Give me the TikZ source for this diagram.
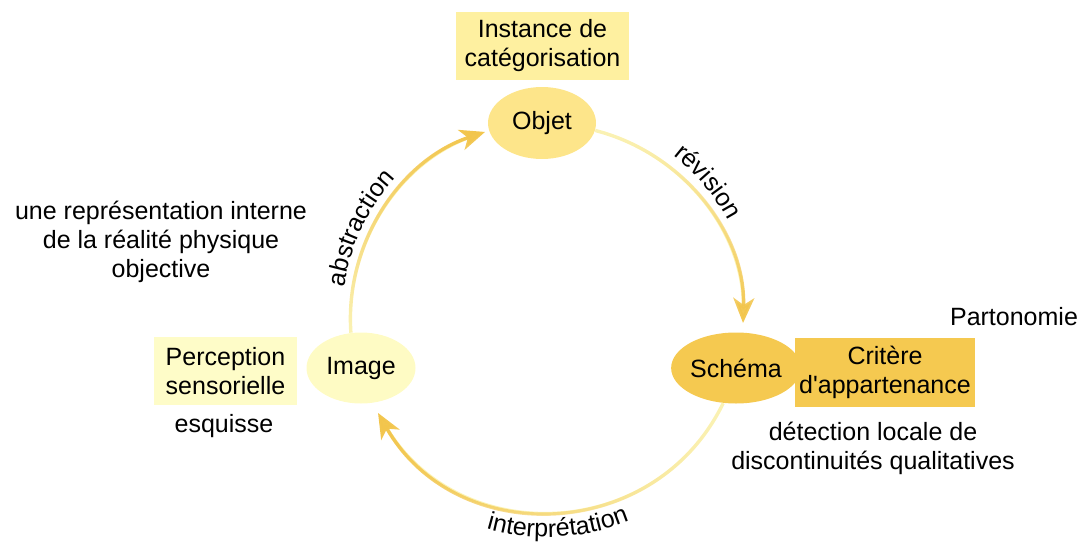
\documentclass[tikz,border=0pt]{standalone}
\usepackage{fontspec}
\setmainfont{Liberation Sans}[Ligatures=TeXOff]
\usetikzlibrary{arrows.meta,shapes.geometric,decorations.text,fadings,calc}

\definecolor{objFill}{HTML}{FDE58A}
\definecolor{imgFill}{HTML}{FEFBC4}
\definecolor{schFill}{HTML}{F5C950}
\definecolor{instFill}{HTML}{FEF0A0}
\definecolor{percFill}{HTML}{FEFCC8}
\definecolor{critFill}{HTML}{F5C950}
\definecolor{arcLight}{HTML}{FBF3B6}
\definecolor{arcDark}{HTML}{F2C54C}

% fadings that darken each cycle arrow towards its head
\tikzfading[name=darkTop, bottom color=transparent!100, middle color=transparent!78, top color=transparent!0]
\tikzfading[name=darkBottom, top color=transparent!100, middle color=transparent!70, bottom color=transparent!0]
\tikzfading[name=darkLeft, right color=transparent!100, middle color=transparent!70, left color=transparent!0]

\newcommand\lblfont{\fontsize{12.5}{14.5}\selectfont}

\begin{document}
\begin{tikzpicture}[x=0.5pt,y=0.5pt, font=\lblfont,
  bubble/.style={ellipse, inner sep=0pt, minimum width=54pt, minimum height=36pt},
  tag/.style={rectangle, inner sep=0pt, align=center},
  note/.style={align=center, inner sep=0pt},
  arcBase/.style={draw=arcLight, line width=1.7pt, shorten >=6pt},
  arcTop/.style={draw=arcDark, line width=1.7pt,
    -{Stealth[length=12.5pt,width=10.5pt,inset=3.5pt]}},
  arcLabel/.style={decorate, decoration={text along path, text align=center,
    text={|\lblfont|#1}}}
]
\useasboundingbox (0,0) rectangle (1082,-546);

% centre of the cycle
\coordinate (C) at (547,-317);

% the three states
\node[bubble, fill=objFill] (obj) at (542,-123) {Objet};
\node[bubble, fill=imgFill, minimum width=54.5pt, minimum height=35.5pt] (img) at (361,-368) {Image};
\node[bubble, fill=schFill, minimum height=35.5pt] (sch) at (736,-368) {Schéma};

% tags beside the states
\node[tag, fill=instFill, minimum width=86.5pt, minimum height=34pt] (inst) at (542.5,-46) {Instance de\\catégorisation};
\node[tag, fill=percFill, minimum width=71.5pt, minimum height=34pt] (perc) at (225.5,-371) {Perception\\sensorielle};
\node[tag, fill=critFill, minimum width=90pt, minimum height=34.5pt] (crit) at (885,-372.5) {Critère\\d'appartenance};

% plain notes
\node[note] (inner) at (161,-242) {une représentation interne\\de la réalité physique\\objective};
\node[anchor=base, inner sep=0pt] (esq) at (224,-432) {esquisse};
\node[anchor=base, inner sep=0pt] (part) at (1014,-325) {Partonomie};
\node[note] (detect) at (873,-448) {détection locale de\\discontinuités qualitatives};

% arrow heads of the cycle
\coordinate (abEnd) at (485,-132);
\coordinate (rvEnd) at (743,-323);
\coordinate (inEnd) at (378,-413);

% abstraction: Image -> Objet
\draw[arcBase] (img.106) to[out=94,in=198.5,looseness=0.95] (abEnd);
\draw[arcTop, path fading=darkTop] (img.106) to[out=94,in=198.5,looseness=0.95] (abEnd);
% revision: Objet -> Schema
\draw[arcBase] (obj.-8) to[out=-14.4,in=88.25,looseness=0.95] (rvEnd);
\draw[arcTop, path fading=darkBottom] (obj.-8) to[out=-14.4,in=88.25,looseness=0.95] (rvEnd);
% interpretation: Schema -> Image
\draw[arcBase] (sch.250) to[out=244,in=299.6,looseness=1.16] (inEnd);
\draw[arcTop, path fading=darkLeft] (sch.250) to[out=244,in=299.6,looseness=1.16] (inEnd);

% labels set along the cycle
\path[arcLabel=abstraction] ($(C)+(174.5:205)$) arc[start angle=174.5, end angle=134.5, radius=205];
\path[arcLabel=révision] ($(C)+(60:205)$) arc[start angle=60, end angle=20, radius=205];
\path[arcLabel=interprétation] ($(C)+(243:220)$) arc[start angle=243, end angle=303, radius=220];
\end{tikzpicture}
\end{document}
